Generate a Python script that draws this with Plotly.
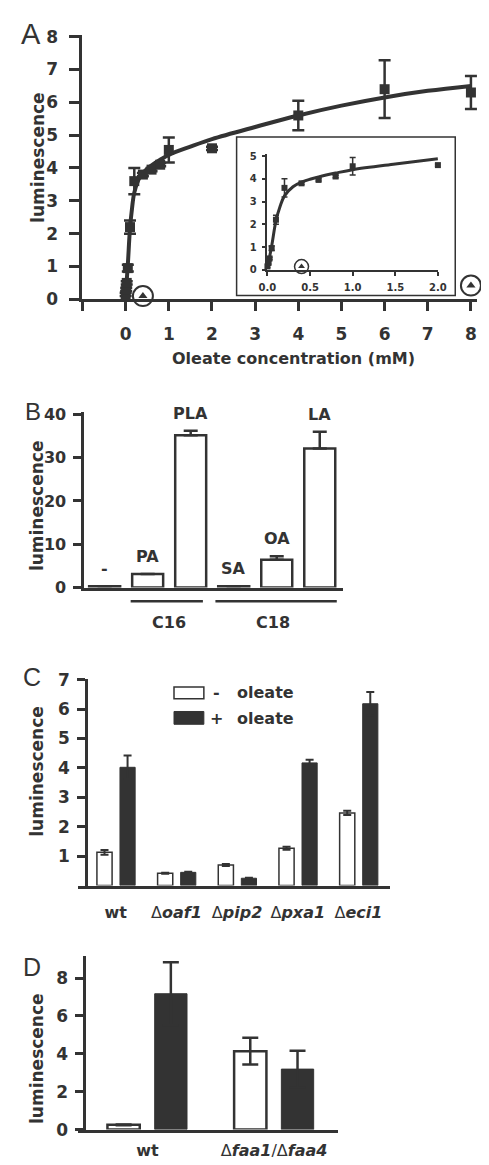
import plotly.graph_objects as go

W, H = 489, 1165
FONT = "DejaVu Sans, Liberation Sans, Arial, sans-serif"
LETTER_FONT = "Liberation Sans, Arial, sans-serif"
INK = "#333333"

def px(v):
    return v / W

def py(v):
    return 1 - v / H

# ---------------- Panel A data ----------------
oleate_mM = [0.0, 0.0125, 0.025, 0.05, 0.1, 0.2, 0.4, 0.6, 0.8, 1.0, 2.0, 4.0, 6.0, 8.0]
lum_A = [0.15, 0.3, 0.5, 0.95, 2.2, 3.6, 3.8, 3.95, 4.1, 4.55, 4.6, 5.6, 6.4, 6.3]
err_A = [0.05, 0.05, 0.05, 0.1, 0.2, 0.4, 0.05, 0.05, 0.05, 0.38, 0.05, 0.45, 0.88, 0.5]
fit_x = [0.0, 0.05, 0.1, 0.15, 0.2, 0.3, 0.4, 0.5, 0.6, 0.8, 1.0, 1.5, 2.0, 3.0, 4.0, 5.0, 6.0, 7.0, 8.0]
fit_y = [0.1, 1.05, 2.15, 2.8, 3.25, 3.65, 3.85, 3.98, 4.08, 4.25, 4.4, 4.65, 4.88, 5.25, 5.6, 5.9, 6.15, 6.35, 6.5]
tri_x = [0.4, 8.0]
tri_y = [0.1, 0.42]

# ---------------- Panel B data ----------------
fa_labels = ["-", "PA", "PLA", "SA", "OA", "LA"]
fa_values = [0.3, 3.1, 35.2, 0.3, 6.4, 32.1]
fa_err = [0.0, 0.0, 1.0, 0.0, 0.8, 3.9]

# ---------------- Panel C data ----------------
strains_C = ["<b>wt</b>", "Δ<b><i>oaf1</i></b>", "Δ<b><i>pip2</i></b>",
             "Δ<b><i>pxa1</i></b>", "Δ<b><i>eci1</i></b>"]
minus_C = [1.13, 0.42, 0.70, 1.27, 2.47]
minus_C_err = [0.08, 0.02, 0.03, 0.05, 0.07]
plus_C = [4.02, 0.45, 0.25, 4.17, 6.18]
plus_C_err = [0.40, 0.02, 0.02, 0.11, 0.40]

# ---------------- Panel D data ----------------
strains_D = ["<b>wt</b>", "Δ<b><i>faa1</i></b>/Δ<b><i>faa4</i></b>"]
minus_D = [0.25, 4.14]
minus_D_err = [0.02, 0.70]
plus_D = [7.17, 3.19]
plus_D_err = [1.66, 0.97]

fig = go.Figure()

# Panel A main
fig.add_trace(go.Scatter(x=fit_x, y=fit_y, mode="lines", line=dict(color=INK, width=4, shape="spline"),
                         xaxis="x", yaxis="y", showlegend=False))
fig.add_trace(go.Scatter(x=oleate_mM, y=lum_A, mode="markers",
                         marker=dict(symbol="square", size=10, color=INK),
                         error_y=dict(type="data", array=err_A, color=INK, thickness=2.5, width=6),
                         xaxis="x", yaxis="y", showlegend=False, cliponaxis=False))
fig.add_trace(go.Scatter(x=tri_x, y=tri_y, mode="markers",
                         marker=dict(symbol="triangle-up", size=8, color=INK),
                         xaxis="x", yaxis="y", showlegend=False, cliponaxis=False))
fig.add_trace(go.Scatter(x=tri_x, y=tri_y, mode="markers",
                         marker=dict(symbol="circle-open", size=20, color=INK, line=dict(width=2, color=INK)),
                         xaxis="x", yaxis="y", showlegend=False, cliponaxis=False))

# Panel A inset
ins_x = [v for v in oleate_mM if v <= 2.0]
ins_y = lum_A[:len(ins_x)]
ins_e = err_A[:len(ins_x)]
ins_fx = [v for v in fit_x if v <= 2.0]
ins_fy = fit_y[:len(ins_fx)]
fig.add_trace(go.Scatter(x=ins_fx, y=ins_fy, mode="lines", line=dict(color=INK, width=3, shape="spline"),
                         xaxis="x2", yaxis="y2", showlegend=False, cliponaxis=False))
fig.add_trace(go.Scatter(x=ins_x, y=ins_y, mode="markers",
                         marker=dict(symbol="square", size=6, color=INK),
                         error_y=dict(type="data", array=ins_e, color=INK, thickness=1.5, width=3),
                         xaxis="x2", yaxis="y2", showlegend=False, cliponaxis=False))
fig.add_trace(go.Scatter(x=tri_x[:1], y=[0.14], mode="markers",
                         marker=dict(symbol="triangle-up", size=6, color=INK),
                         xaxis="x2", yaxis="y2", showlegend=False, cliponaxis=False))
fig.add_trace(go.Scatter(x=tri_x[:1], y=[0.14], mode="markers",
                         marker=dict(symbol="circle-open", size=14, color=INK, line=dict(width=1.5, color=INK)),
                         xaxis="x2", yaxis="y2", showlegend=False, cliponaxis=False))

# Panel B
fig.add_trace(go.Bar(x=list(range(len(fa_labels))), y=fa_values, width=0.72,
                     marker=dict(color="white", line=dict(color=INK, width=2.5)),
                     error_y=dict(type="data", array=fa_err, arrayminus=[0] * len(fa_err), symmetric=False,
                                  color=INK, thickness=2.5, width=7),
                     xaxis="x3", yaxis="y3", showlegend=False))

# Panel C
xc = list(range(len(strains_C)))
fig.add_trace(go.Bar(x=xc, y=minus_C, width=0.25, offset=-0.31, name="- oleate",
                     marker=dict(color="white", line=dict(color=INK, width=1.5)),
                     error_y=dict(type="data", array=minus_C_err, color=INK, thickness=2, width=4),
                     xaxis="x4", yaxis="y4", showlegend=False))
fig.add_trace(go.Bar(x=xc, y=plus_C, width=0.25, offset=0.07, name="+ oleate",
                     marker=dict(color=INK, line=dict(color=INK, width=1)),
                     error_y=dict(type="data", array=plus_C_err, color=INK, thickness=2, width=4),
                     xaxis="x4", yaxis="y4", showlegend=False))

# Panel D
xd = list(range(len(strains_D)))
fig.add_trace(go.Bar(x=xd, y=minus_D, width=0.255, offset=-0.316, name="- oleate",
                     marker=dict(color="white", line=dict(color=INK, width=2.5)),
                     error_y=dict(type="data", array=minus_D_err, color=INK, thickness=2.5, width=8),
                     xaxis="x5", yaxis="y5", showlegend=False))
fig.add_trace(go.Bar(x=xd, y=plus_D, width=0.255, offset=0.057, name="+ oleate",
                     marker=dict(color=INK, line=dict(color=INK, width=1)),
                     error_y=dict(type="data", array=plus_D_err, color=INK, thickness=2.5, width=8),
                     xaxis="x5", yaxis="y5", showlegend=False))

axbase = dict(showline=True, linecolor=INK, linewidth=3, ticks="outside", tickcolor=INK, tickwidth=3,
              showgrid=False, zeroline=False, fixedrange=True)

def tf(size, weight="bold"):
    return dict(family=FONT, size=size, color=INK, weight=weight)

layout = dict(
    width=W, height=H, autosize=False, margin=dict(l=0, r=0, t=0, b=0),
    paper_bgcolor="white", plot_bgcolor="rgba(0,0,0,0)", barmode="overlay",
    font=dict(family=FONT, color=INK),
    # Panel A
    xaxis=dict(axbase, domain=[px(68), px(478)], range=[-1, 8.15], anchor="y",
               tickvals=list(range(-1, 9)), ticktext=[""] + [str(i) for i in range(9)],
               ticklen=9, tickfont=tf(17), ticklabelstandoff=8),
    yaxis=dict(axbase, domain=[py(287), py(18)], range=[0, 8.06], anchor="x",
               tickvals=list(range(9)), ticklen=10, tickfont=tf(17), ticklabelstandoff=8),
    # Inset
    xaxis2=dict(axbase, domain=[px(260), px(437)], range=[0, 2.0], anchor="y2", linewidth=1.5, tickwidth=1.5,
                tickvals=[0, 0.5, 1.0, 1.5, 2.0], ticktext=["0.0", "0.5", "1.0", "1.5", "2.0"],
                ticklen=4, tickfont=tf(10), ticklabelstandoff=3),
    yaxis2=dict(axbase, domain=[py(257), py(139)], range=[0, 5.1], anchor="x2", linewidth=1.5, tickwidth=1.5,
                tickvals=list(range(6)), ticklen=4, tickfont=tf(10), ticklabelstandoff=3),
    # Panel B
    xaxis3=dict(axbase, domain=[px(70), px(338)], range=[-0.47, 5.53], anchor="y3",
                ticks="", showticklabels=False),
    yaxis3=dict(axbase, domain=[py(580), py(402)], range=[0, 40.45], anchor="x3",
                tickvals=[0, 10, 20, 30, 40], ticklen=8, tickfont=tf(16), ticklabelstandoff=4),
    # Panel C
    xaxis4=dict(axbase, domain=[px(63), px(387)], range=[-0.627, 4.516], anchor="y4",
                ticks="", tickvals=xc, ticktext=strains_C, tickfont=tf(16, "normal"), ticklabelstandoff=10),
    yaxis4=dict(axbase, domain=[py(883), py(673)], range=[0, 7.02], anchor="free", position=px(72),
                tickvals=list(range(1, 8)), ticklen=8, tickfont=tf(17), ticklabelstandoff=4),
    # Panel D
    xaxis5=dict(axbase, domain=[px(63), px(333)], range=[-0.551, 1.502], anchor="y5",
                ticks="", tickvals=xd, ticktext=strains_D, tickfont=tf(16, "normal"), ticklabelstandoff=4),
    yaxis5=dict(axbase, domain=[py(1131), py(955)], range=[0, 9.14], anchor="free", position=px(70),
                tickvals=[0, 2, 4, 6, 8], ticklen=8, tickfont=tf(17), ticklabelstandoff=4),
)
fig.update_layout(**layout)

shapes = []
# inset frame
shapes.append(dict(type="rect", xref="paper", yref="paper", x0=px(228), x1=px(455), y0=py(283), y1=py(122),
                   line=dict(color=INK, width=1.5), fillcolor="white", layer="below"))
# C16 / C18 group lines
shapes.append(dict(type="line", xref="paper", yref="paper", x0=px(118), x1=px(193), y0=py(594), y1=py(594),
                   line=dict(color=INK, width=2.5)))
shapes.append(dict(type="line", xref="paper", yref="paper", x0=px(206), x1=px(332), y0=py(594), y1=py(594),
                   line=dict(color=INK, width=2.5)))
# legend swatches panel C
shapes.append(dict(type="rect", xref="paper", yref="paper", x0=px(163), x1=px(194), y0=py(693), y1=py(681),
                   line=dict(color=INK, width=1.5), fillcolor="white"))
shapes.append(dict(type="rect", xref="paper", yref="paper", x0=px(163), x1=px(194), y0=py(719), y1=py(706),
                   line=dict(color=INK, width=1), fillcolor=INK))
fig.update_layout(shapes=shapes)

ann = []

def text(x, y, s, size, weight="bold", angle=0, xanchor="center", family=FONT):
    ann.append(dict(xref="paper", yref="paper", x=px(x), y=py(y), text=s, showarrow=False,
                    font=dict(family=family, size=size, color=INK, weight=weight),
                    xanchor=xanchor, yanchor="middle", textangle=angle))

# panel letters
text(15, 17, "A", 29, "normal", family=LETTER_FONT)
text(17, 401, "B", 24, "normal", family=LETTER_FONT)
text(16, 671, "C", 25, "normal", family=LETTER_FONT)
text(16, 966, "D", 25, "normal", family=LETTER_FONT)
# y titles
for yc in (143, 497, 767, 1059):
    text(21, yc, "luminescence", 17, angle=-90)
# x title A
text(287, 347, "Oleate concentration (mM)", 16)
# panel B labels over bars
for i, lab in enumerate(fa_labels):
    ann.append(dict(xref="x3", yref="y3", x=i, y=fa_values[i] + fa_err[i], text=lab, showarrow=False,
                    font=dict(family=FONT, size=16, color=INK, weight="bold"),
                    yanchor="bottom", yshift=6))
text(158, 616, "C16", 16)
text(266, 616, "C18", 16)
# panel C legend text
text(207, 687, "-", 16)
text(207, 713, "+", 16)
text(226, 687, "oleate", 16, xanchor="left")
text(226, 713, "oleate", 16, xanchor="left")
fig.update_layout(annotations=ann)

fig.write_html("out.html")
